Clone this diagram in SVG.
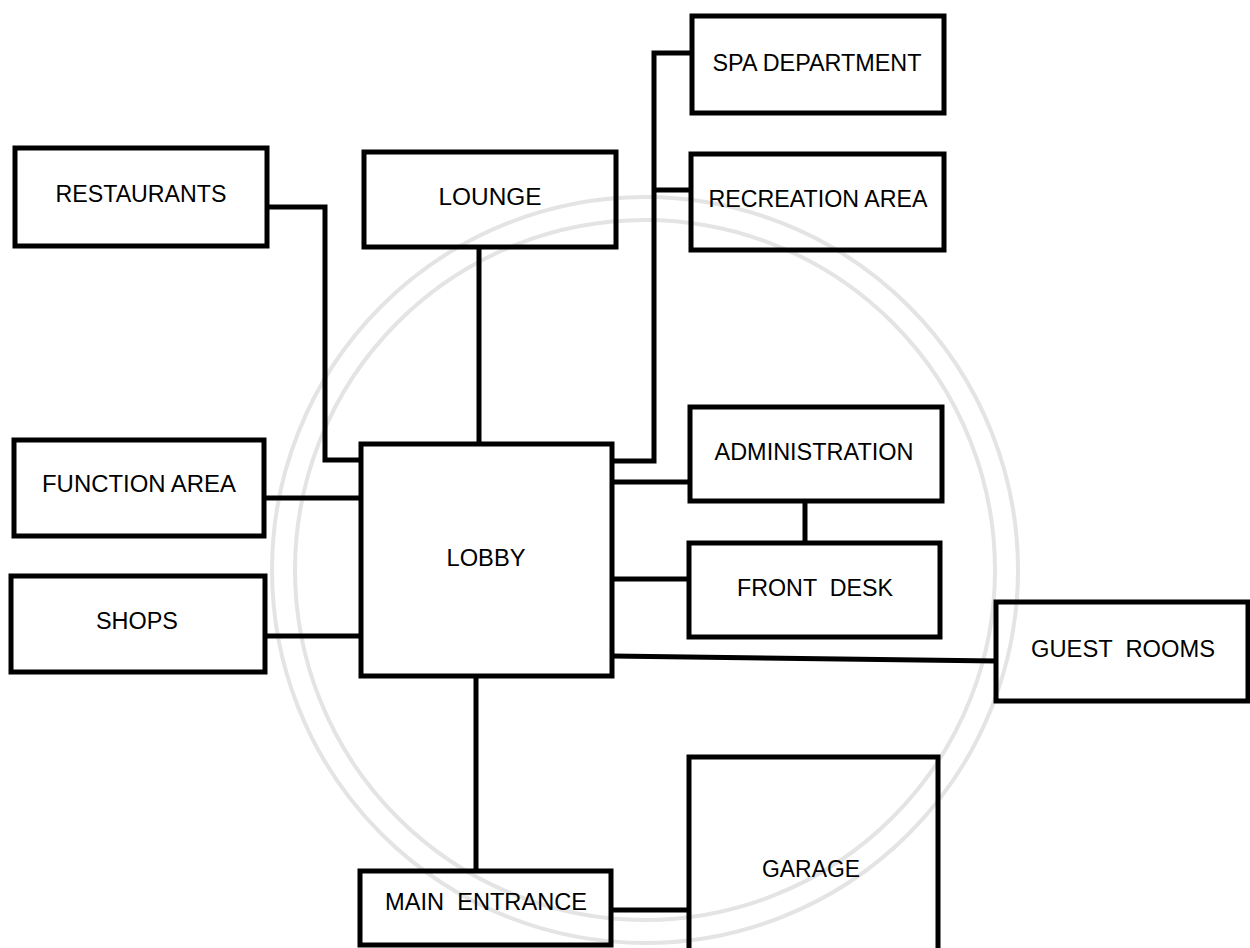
<svg xmlns="http://www.w3.org/2000/svg" width="1250" height="948" viewBox="0 0 1250 948">
<style>
.box{fill:none;stroke:#000;stroke-width:5}
.ln{fill:none;stroke:#000;stroke-width:5;stroke-linejoin:miter}
.t{font-family:"Liberation Sans",Arial,sans-serif;font-size:23.5px;fill:#000;text-anchor:middle}
.wm{fill:none;stroke:#e4e4e4;stroke-width:4}
</style>
<rect width="1250" height="948" fill="#fff"/>
<g id="watermark">
<circle class="wm" cx="645" cy="570" r="373"/>
<circle class="wm" cx="645" cy="570" r="350"/>
</g>
<g id="connectors">
<polyline class="ln" points="267,207 325,207 325,460 362,460"/>
<line class="ln" x1="479" y1="247" x2="479" y2="444"/>
<line class="ln" x1="264" y1="498" x2="361" y2="498"/>
<line class="ln" x1="265" y1="636" x2="361" y2="636"/>
<polyline class="ln" points="612,461 654,461 654,53 692,53"/>
<line class="ln" x1="654" y1="190" x2="691" y2="190"/>
<line class="ln" x1="612" y1="482" x2="690" y2="482"/>
<line class="ln" x1="805" y1="501" x2="805" y2="543"/>
<line class="ln" x1="612" y1="579" x2="689" y2="579"/>
<line class="ln" x1="612" y1="656" x2="996" y2="661"/>
<line class="ln" x1="476" y1="676" x2="476" y2="871"/>
<line class="ln" x1="611" y1="910" x2="689" y2="910"/>
</g>
<g id="restaurants"><rect class="box" x="15" y="148" width="252" height="98"/><text class="t" x="141" y="202" textLength="171" lengthAdjust="spacingAndGlyphs">RESTAURANTS</text></g>
<g id="lounge"><rect class="box" x="364" y="152" width="252" height="95"/><text class="t" x="490" y="205" textLength="103" lengthAdjust="spacingAndGlyphs">LOUNGE</text></g>
<g id="spa"><rect class="box" x="692" y="16" width="252" height="97"/><text class="t" x="817" y="71" textLength="209" lengthAdjust="spacingAndGlyphs">SPA DEPARTMENT</text></g>
<g id="recreation"><rect class="box" x="691" y="154" width="253" height="96"/><text class="t" x="818" y="207" textLength="219" lengthAdjust="spacingAndGlyphs">RECREATION AREA</text></g>
<g id="lobby"><rect class="box" x="361" y="444" width="251" height="232"/><text class="t" x="486" y="566" textLength="79" lengthAdjust="spacingAndGlyphs">LOBBY</text></g>
<g id="function"><rect class="box" x="14" y="440" width="250" height="96"/><text class="t" x="139" y="492" textLength="194" lengthAdjust="spacingAndGlyphs">FUNCTION AREA</text></g>
<g id="shops"><rect class="box" x="11" y="576" width="254" height="96"/><text class="t" x="137" y="629" textLength="82" lengthAdjust="spacingAndGlyphs">SHOPS</text></g>
<g id="administration"><rect class="box" x="690" y="407" width="252" height="94"/><text class="t" x="814" y="460" textLength="199" lengthAdjust="spacingAndGlyphs">ADMINISTRATION</text></g>
<g id="frontdesk"><rect class="box" x="689" y="543" width="251" height="94"/><text class="t" x="815" y="596" textLength="156" lengthAdjust="spacingAndGlyphs" xml:space="preserve">FRONT  DESK</text></g>
<g id="guestrooms"><rect class="box" x="996" y="602" width="252" height="99"/><text class="t" x="1123" y="657" textLength="184" lengthAdjust="spacingAndGlyphs" xml:space="preserve">GUEST  ROOMS</text></g>
<g id="mainentrance"><rect class="box" x="360" y="871" width="251" height="74"/><text class="t" x="486" y="910" textLength="202" lengthAdjust="spacingAndGlyphs" xml:space="preserve">MAIN  ENTRANCE</text></g>
<g id="garage"><rect class="box" x="689" y="757" width="249" height="200"/><text class="t" x="811" y="877" textLength="98" lengthAdjust="spacingAndGlyphs">GARAGE</text></g>
</svg>
